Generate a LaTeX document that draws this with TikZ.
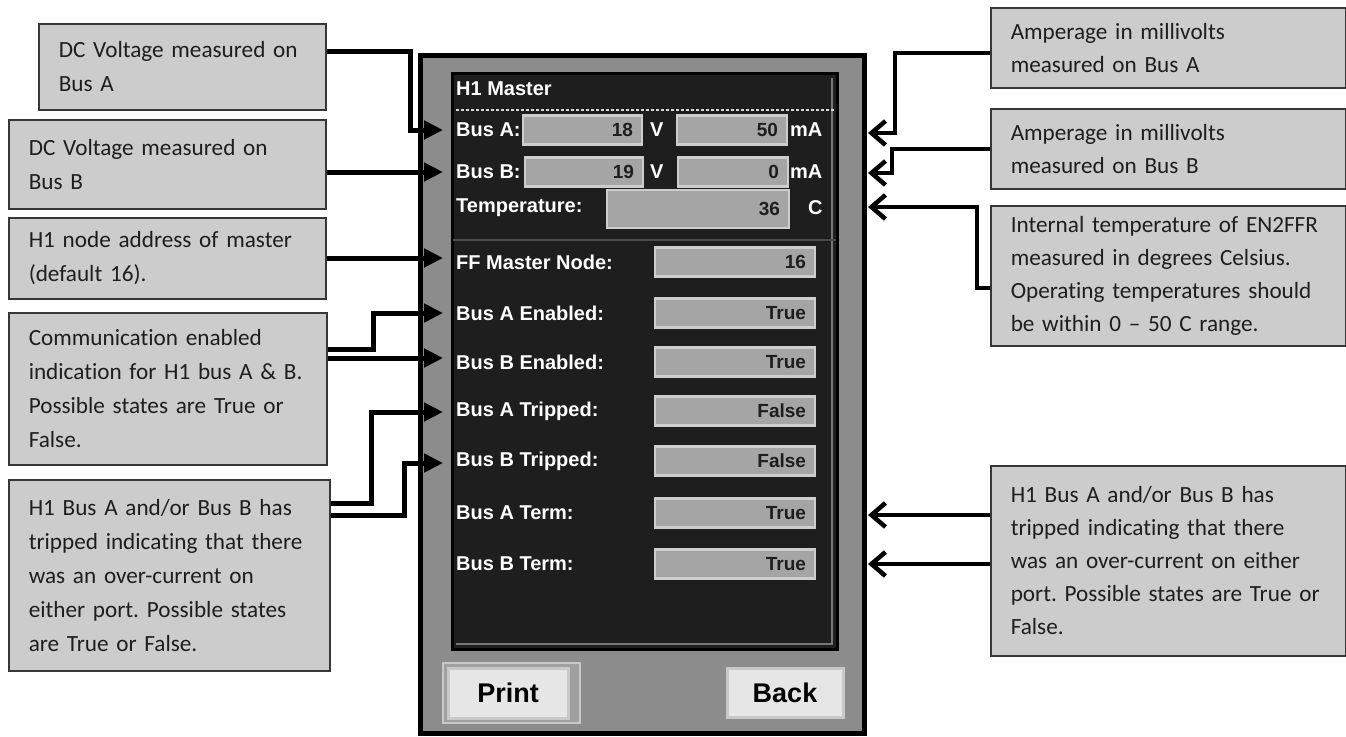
\documentclass[tikz,border=0pt]{standalone}
\usepackage{fontspec}
\setmainfont{Carlito}[Ligatures=NoCommon]
\newfontfamily\panelfont{Liberation Sans}
\usetikzlibrary{arrows.meta,calc}
\frenchspacing
\definecolor{notegray}{RGB}{204,204,204}
\definecolor{noteline}{RGB}{55,55,55}
\definecolor{notetext}{RGB}{30,30,30}
\definecolor{panelgray}{RGB}{140,140,140}
\definecolor{paneldark}{RGB}{30,30,30}
\definecolor{panelbevel}{RGB}{120,120,120}
\definecolor{panelrule}{RGB}{75,75,75}
\definecolor{fieldgray}{RGB}{165,165,165}
\definecolor{fieldedge}{RGB}{205,205,205}
\definecolor{buttongray}{RGB}{230,230,230}
\definecolor{buttonedge}{RGB}{200,200,200}
\definecolor{framegray}{RGB}{160,160,160}

\begin{document}
\begin{tikzpicture}[x=1pt,y=-1pt,
	note/.style={draw=noteline, line width=1.5pt, fill=notegray, text=notetext, anchor=north west, align=left, inner xsep=20pt, inner ysep=0pt, font=\fontsize{23.2}{34}\selectfont},
	rnote/.style={note, font=\fontsize{23.2}{33}\selectfont},
	plabel/.style={anchor=west, inner sep=0pt, text=white, font=\panelfont\bfseries\fontsize{20}{24}\selectfont},
	field/.style={fill=fieldgray, draw=fieldedge, line width=2.5pt, align=right, inner xsep=9pt, inner ysep=0pt, minimum height=29pt, text=notetext, font=\panelfont\bfseries\fontsize{19}{22}\selectfont},
	button/.style={fill=buttongray, draw=buttonedge, line width=3pt, inner sep=0pt, text=black, font=\panelfont\bfseries\fontsize{27}{30}\selectfont},
	lconn/.style={line width=5pt, -{Triangle[length=19pt,width=18pt]}},
	rconn/.style={line width=4.5pt, -{Straight Barb[length=14pt,width=24pt]}}]

\fill[white, use as bounding box] (0,0) rectangle (1346,736);

\draw[fill=panelgray, line width=5pt] (420,55) rectangle (864,733);
\draw[fill=paneldark, line width=3pt] (452,73) rectangle (837,649);
\draw[panelbevel, line width=1.5pt] (456,644) -- (832,644) -- (832,78);
\draw[white!85!black, line width=1.2pt, dash pattern=on 3pt off 2pt] (456,110) -- (835,110);
\draw[panelrule, line width=2pt] (453,240) -- (836,240);

\node[plabel] (hdr) at (456,89) {H1 Master};

\node[plabel] (labA) at (456,130) {Bus A:};
\node[field, text width=101pt] (vA) at (582.5,130) {18};
\node[plabel] (unitVA) at (650,130) {V};
\node[field, text width=92pt] (iA) at (732,130) {50};
\node[plabel] (unitIA) at (790,130) {mA};

\node[plabel] (labB) at (456,172) {Bus B:};
\node[field, text width=100pt] (vB) at (584,172) {19};
\node[plabel] (unitVB) at (650,172) {V};
\node[field, text width=92pt] (iB) at (733,172) {0};
\node[plabel] (unitIB) at (790,172) {mA};

\node[plabel] (labT) at (456,208) {Temperature:};
\node[field, text width=164pt, minimum height=38pt] (fT) at (698,209) {36};
\node[plabel] (unitT) at (808,208) {C};

\foreach \y/\name/\lab/\val in {262/ff/FF Master Node:/16, 313/aen/Bus A Enabled:/True, 362/ben/Bus B Enabled:/True, 411/atr/Bus A Tripped:/False, 461/btr/Bus B Tripped:/False, 513/atm/Bus A Term:/True, 564/btm/Bus B Term:/True}
{
	\node[plabel] (l\name) at (456,\y) {\lab};
	\node[field, text width=142pt] (f\name) at (735,\y) {\val};
}

\draw[fill=framegray, draw=buttonedge, line width=2pt] (443,663) rectangle (580,723);
\node[button, minimum width=120pt, minimum height=50pt] (print) at (508,693) {Print};
\node[button, minimum width=116pt, minimum height=49pt] (back) at (785,692.5) {Back};

\coordinate (pBusA) at (443,130);
\coordinate (pBusB) at (443,172);
\coordinate (pFF) at (443,258);
\coordinate (pAEn) at (443,313);
\coordinate (pBEn) at (443,358);
\coordinate (pATr) at (443,412);
\coordinate (pBTr) at (443,463);
\coordinate (pAmA) at (868,133);
\coordinate (pBmA) at (868,173);
\coordinate (pTemp) at (868,207);
\coordinate (pATm) at (868,515);
\coordinate (pBTm) at (868,564);

\node[note, text width=247pt, minimum height=86pt] (dcA) at (38,23) {DC Voltage measured on\\Bus A};
\node[note, text width=277pt, minimum height=89pt] (dcB) at (8,119) {DC Voltage measured on\\Bus B};
\node[note, text width=277pt, minimum height=81pt] (addr) at (8,217) {H1 node address of master\\(default 16).};
\node[note, text width=278pt, minimum height=152pt] (comm) at (8,312) {Communication enabled\\indication for H1 bus A \& B.\\Possible states are True or\\False.};
\node[note, text width=281pt, minimum height=191pt] (tripL) at (8,479) {H1 Bus A and/or Bus B has\\tripped indicating that there\\was an over-current on\\either port. Possible states\\are True or False.};

\node[rnote, text width=315pt, minimum height=80pt] (ampA) at (990,7) {Amperage in millivolts\\measured on Bus A};
\node[rnote, text width=315pt, minimum height=80pt] (ampB) at (990,108) {Amperage in millivolts\\measured on Bus B};
\node[rnote, text width=315pt, minimum height=140pt] (temp) at (990,205) {Internal temperature of EN2FFR\\measured in degrees Celsius.\\Operating temperatures should\\be within 0 – 50 C range.};
\node[rnote, text width=315pt, minimum height=190pt] (tripR) at (990,465) {H1 Bus A and/or Bus B has\\tripped indicating that there\\was an over-current on either\\port. Possible states are True or\\False.};

\draw[lconn] ([yshift=15pt]dcA.east) -- ++(84,0) |- (pBusA);
\draw[lconn] (pBusB -| dcB.east) -- (pBusB);
\draw[lconn] (pFF -| addr.east) -- (pFF);
\draw[lconn] ([yshift=39pt]comm.east) -- ++(46,0) |- (pAEn);
\draw[lconn] (pBEn -| comm.east) -- (pBEn);
\draw[lconn] ([yshift=71.5pt]tripL.east) -- ++(41,0) |- (pATr);
\draw[lconn] ([yshift=59.5pt]tripL.east) -- ++(74,0) |- (pBTr);

\draw[rconn] ([yshift=-5pt]ampA.west) -- ++(-95,0) |- (pAmA);
\draw[rconn] (ampB.west) -- ++(-98,0) |- (pBmA);
\draw[rconn] ([yshift=-12pt]temp.west) -- ++(-13,0) |- (pTemp);
\draw[rconn] (pATm -| tripR.west) -- (pATm);
\draw[rconn] (pBTm -| tripR.west) -- (pBTm);
\end{tikzpicture}
\end{document}
